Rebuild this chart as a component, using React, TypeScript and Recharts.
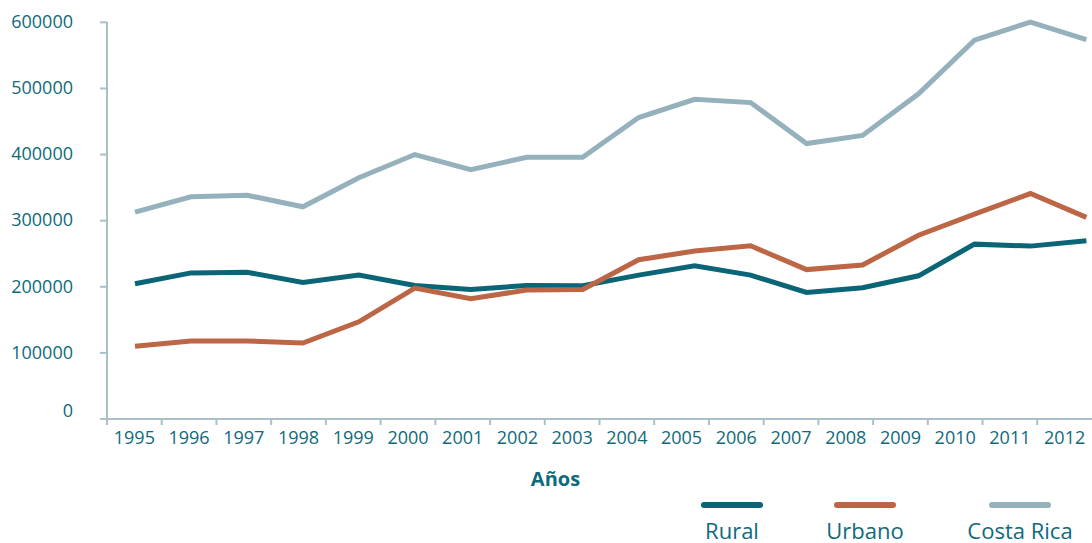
import { Legend, Line, LineChart, XAxis, YAxis } from 'recharts';

const years = [1995, 1996, 1997, 1998, 1999, 2000, 2001, 2002, 2003, 2004, 2005, 2006, 2007, 2008, 2009, 2010, 2011, 2012];
const rural = [204500, 221000, 222000, 206500, 217600, 202000, 196000, 202000, 201500, 217600, 231700, 217600, 191500, 198500, 216600, 264500, 261500, 269500];
const urbano = [110000, 118000, 118000, 115000, 147000, 198000, 182000, 195000, 196000, 241000, 254000, 262000, 226000, 233000, 278000, 310000, 341000, 305000];
const costaRica = [313000, 336000, 338500, 321000, 365000, 400000, 377000, 396000, 396000, 456000, 483600, 478600, 416600, 429000, 492000, 573000, 600500, 574000];
const yTicks = [0, 100000, 200000, 300000, 400000, 500000, 600000];
const seriesNames = ['Rural', 'Urbano', 'Costa Rica'];

const TEXT = '#0f6a7a';
const AXIS = '#a9c0c9';
const COLORS = ['#0a6576', '#bd6646', '#95b1bc'];
const FONT = '"Open Sans", "Noto Sans", sans-serif';

const data = years.map((year, i) => ({
  year,
  rural: rural[i],
  urbano: urbano[i],
  costaRica: costaRica[i]
}));

// tick marks sit between the year labels
const boundaries = years.map((y) => y - 0.5);

function YTick({ x, y, payload }: any) {
  const shift = payload.value === 0 ? -7 : 1;
  return (
    <text x={x} y={y + shift} textAnchor="end" dominantBaseline="middle" fill={TEXT} fontSize={18} fontFamily={FONT}>
      {payload.value}
    </text>
  );
}

const NoLabel = () => <g />;

function AnosLabel({ viewBox }: any) {
  return (
    <text x={viewBox.x + viewBox.width / 2 - 44} y={viewBox.y + 66} textAnchor="middle" fill={TEXT} fontSize={20} fontWeight={700} fontFamily={FONT}>
      Años
    </text>
  );
}

const legendCenters = [732, 865, 1020];

function LegendContent({ payload }: any) {
  const items = seriesNames.map((name) => (payload ?? []).find((p: any) => p.value === name)).filter(Boolean);
  return (
    <div style={{ position: 'relative', width: 1092, height: 38 }}>
      {items.map((item: any, i: number) => (
        <div
          key={item.value}
          style={{ position: 'absolute', left: legendCenters[i] - 80, width: 160, top: 0, textAlign: 'center' }}
        >
          <div style={{ width: 62, height: 6, borderRadius: 3, background: item.color, margin: '0 auto' }} />
          <div style={{ color: TEXT, fontFamily: FONT, fontSize: 22, lineHeight: '22px', marginTop: 11 }}>{item.value}</div>
        </div>
      ))}
    </div>
  );
}

export default function App() {
  return (
    <div style={{ position: 'absolute', left: 0, top: 0, background: '#fff' }}>
      <LineChart width={1092} height={543} data={data} margin={{ top: 22, right: 0, left: 0, bottom: 63 }}>
        <XAxis
          xAxisId="yearLabels"
          type="number"
          dataKey="year"
          domain={[1994.5, 2012.5]}
          ticks={years}
          interval={0}
          axisLine={false}
          tickLine={false}
          tickSize={0}
          tickMargin={11}
          height={60}
          tick={{ fill: TEXT, fontSize: 18, fontFamily: FONT }}
          label={<AnosLabel />}
        />
        <XAxis
          xAxisId="axisMarks"
          type="number"
          dataKey="year"
          domain={[1994.5, 2012.5]}
          ticks={boundaries}
          interval={0}
          tick={<NoLabel />}
          tickSize={6}
          height={1}
          axisLine={{ stroke: AXIS, strokeWidth: 2 }}
          tickLine={{ stroke: AXIS, strokeWidth: 2 }}
        />
        <XAxis xAxisId="series" type="number" dataKey="year" domain={[1994.5, 2012.1]} height={0} hide allowDataOverflow />
        <YAxis
          domain={[0, 600000]}
          ticks={yTicks}
          width={107}
          axisLine={{ stroke: AXIS, strokeWidth: 2 }}
          tickSize={7}
          tickMargin={27}
          tickLine={{ stroke: AXIS, strokeWidth: 2 }}
          tick={<YTick />}
        />
        <Legend
          verticalAlign="middle"
          align="center"
          layout="horizontal"
          wrapperStyle={{ left: 0, top: 502, width: 1092 }}
          content={<LegendContent />}
        />
        <Line xAxisId="series" type="linear" dataKey="rural" name={seriesNames[0]} stroke={COLORS[0]} strokeWidth={5} dot={false} isAnimationActive={false} />
        <Line xAxisId="series" type="linear" dataKey="urbano" name={seriesNames[1]} stroke={COLORS[1]} strokeWidth={5} dot={false} isAnimationActive={false} />
        <Line xAxisId="series" type="linear" dataKey="costaRica" name={seriesNames[2]} stroke={COLORS[2]} strokeWidth={5} dot={false} isAnimationActive={false} />
      </LineChart>
    </div>
  );
}
